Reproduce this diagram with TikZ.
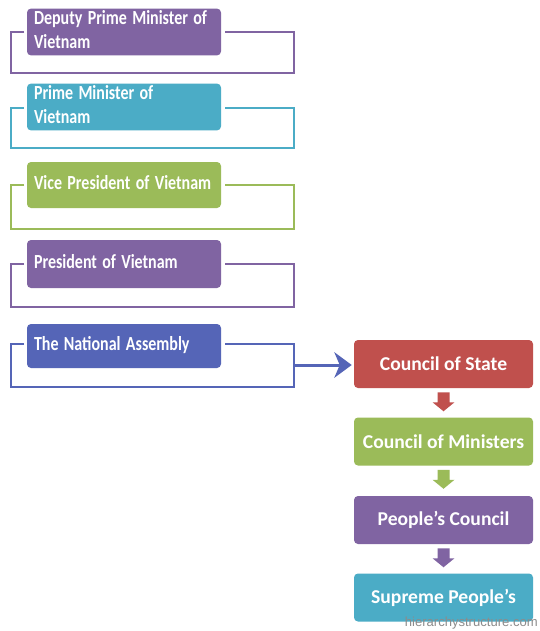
\documentclass[tikz,border=0pt]{standalone}
\usepackage{fontspec}
\setmainfont{Carlito}
\newfontfamily\wmfont{Liberation Sans}
\usetikzlibrary{arrows.meta,calc}
\definecolor{cpurple}{HTML}{8064A2}
\definecolor{cteal}{HTML}{4BACC6}
\definecolor{cgreen}{HTML}{9BBB59}
\definecolor{cblue}{HTML}{5565B7}
\definecolor{cred}{HTML}{C0504D}
\newcommand{\cond}[1]{\scalebox{0.8}[1]{\begin{tabular}{@{}l@{}}#1\end{tabular}}}
\tikzset{
  lbox/.style={rectangle, rounded corners=3pt, fill=#1, text=white,
    minimum width=145.5pt, text width=135pt, inner xsep=5.25pt, inner ysep=0pt,
    align=left, font=\bfseries\fontsize{15}{17.25}\selectfont},
  rbox/.style={rectangle, rounded corners=3pt, fill=#1, text=white,
    minimum width=134.25pt, minimum height=36pt, inner sep=0pt,
    align=center, font=\bfseries\fontsize{14.7}{17}\selectfont},
  bracket/.style={draw=#1, line width=1.9pt},
}
\newcommand{\blockarr}[2]{%
  \fill[#2] ($(#1.south)+(-6,4)$) -- ($(#1.south)+(6,4)$) -- ($(#1.south)+(6,14)$)
    -- ($(#1.south)+(11,14)$) -- ($(#1.south)+(0,23)$) -- ($(#1.south)+(-11,14)$)
    -- ($(#1.south)+(-6,14)$) -- cycle;}
\begin{document}
\begin{tikzpicture}[x=0.75pt,y=-0.75pt]
\useasboundingbox (0,0) rectangle (539,631);
\fill[white] (0,0) rectangle (539,631);
% brackets
\draw[bracket=cpurple] (24,32) -- (11,32) -- (11,73) -- (294,73) -- (294,32) -- (225,32);
\draw[bracket=cteal] (24,108) -- (11,108) -- (11,148) -- (294,148) -- (294,108) -- (225,108);
\draw[bracket=cgreen] (24,185) -- (11,185) -- (11,229) -- (294,229) -- (294,185) -- (225,185);
\draw[bracket=cpurple] (24,264) -- (11,264) -- (11,307) -- (294,307) -- (294,264) -- (225,264);
\draw[bracket=cblue] (24,344) -- (11,344) -- (11,387) -- (294,387) -- (294,344) -- (225,344);
\coordinate (nar) at (294,365);
% left boxes
\node[lbox=cpurple, minimum height=33pt] (dpm) at (124,32) {\cond{Deputy Prime Minister of\\[0.6pt]Vietnam}};
\node[lbox=cteal, minimum height=33pt] (pm) at (124,107) {\cond{Prime Minister of\\[0.6pt]Vietnam}};
\node[lbox=cgreen, minimum height=34.5pt] (vp) at (124,185) {\cond{Vice President of Vietnam}};
\node[lbox=cpurple, minimum height=36pt] (pr) at (124,264) {\cond{President of Vietnam}};
\node[lbox=cblue, minimum height=33pt] (na) at (124,346) {\cond{The National Assembly}};
% right boxes
\node[rbox=cred] (cs) at (443.5,364) {Council of State};
\node[rbox=cgreen] (cm) at (443.5,441.5) {Council of Ministers};
\node[rbox=cpurple] (pc) at (443.5,520) {People’s Council};
\node[rbox=cteal] (sp) at (443.5,597.5) {Supreme People’s};
% connector
\draw[cblue, line width=2.25pt, -{Stealth[length=13pt, width=19pt, inset=4pt]}, shorten >=1.5pt] (nar) -- (nar -| cs.west);
% block arrows
\blockarr{cs}{cred}
\blockarr{cm}{cgreen}
\blockarr{pc}{cpurple}
% watermark
\node[anchor=base east, inner sep=0pt, text=black!45, font=\wmfont\fontsize{9.8}{11}\selectfont] (wm) at (538,626) {hierarchystructure.com};
\end{tikzpicture}
\end{document}
